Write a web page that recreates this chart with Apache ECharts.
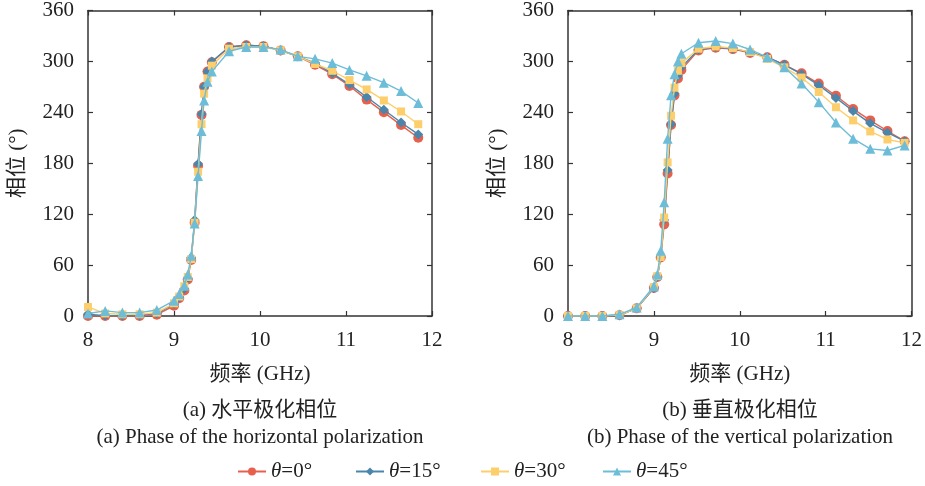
<!DOCTYPE html>
<html>
<head>
<meta charset="utf-8">
<script src="https://cdn.jsdelivr.net/npm/echarts@6/dist/echarts.min.js"></script>
<style>html,body{margin:0;padding:0;background:#fff}#c{width:925px;height:486px}</style>
</head>
<body>
<div id="c"></div>
<script>
// ---- data ----
var seriesNames = ['θ=0°', 'θ=15°', 'θ=30°', 'θ=45°'];
var xTicks = [8, 9, 10, 11, 12];
var yTicks = [0, 60, 120, 180, 240, 300, 360];

// (a) horizontal polarization
var hFreq = [8.0, 8.2, 8.4, 8.6, 8.8, 9.0, 9.06, 9.12, 9.16, 9.2, 9.24, 9.28, 9.32, 9.35, 9.39, 9.44, 9.64, 9.84, 10.04, 10.24, 10.44, 10.64, 10.84, 11.04, 11.24, 11.44, 11.64, 11.84];
var hTheta0  = [0, 0, 0, 0, 1.5, 12, 21, 30, 43, 66, 110, 177, 237, 270, 288, 299, 317, 319, 318, 313, 306, 296, 285, 271, 255, 240, 225, 210];
var hTheta15 = [2, 0.5, 0.5, 1, 3, 14, 22, 32, 44, 69, 113, 179, 238, 270, 288, 300, 317, 319, 318, 313, 306, 298, 286, 273, 258, 243, 228, 214];
var hTheta30 = [10.6, 3, 2, 2, 4, 15, 23, 35, 46, 67, 110, 170, 226, 262, 280, 295, 315, 317, 317, 313, 306, 297, 289, 278, 267, 254, 241, 226];
var hTheta45 = [3, 6, 4, 4, 7, 18, 26, 36, 49, 71, 109, 165, 218, 254, 276, 288, 312, 317, 317, 314, 306, 303, 298, 290, 283, 275, 265, 251];

// (b) vertical polarization
var vFreq = [8.0, 8.2, 8.4, 8.6, 8.8, 9.0, 9.04, 9.08, 9.12, 9.16, 9.2, 9.24, 9.28, 9.32, 9.52, 9.72, 9.92, 10.12, 10.32, 10.52, 10.72, 10.92, 11.12, 11.32, 11.52, 11.72, 11.92];
var vTheta0  = [0, 0, 0, 1, 9, 33, 46, 69, 108, 168, 225, 260, 280, 290, 313, 316, 314.5, 310, 305, 296, 286, 274, 259.5, 244, 230.5, 218, 206];
var vTheta15 = [0, 0, 0, 1, 9, 33, 46, 69.5, 113, 172, 226, 262, 283, 293, 314, 317, 315, 311, 305, 296, 285, 272, 257, 241.5, 227, 216, 206];
var vTheta30 = [0, 0, 0, 1, 9, 34, 47, 69.5, 116, 181, 236, 269, 289, 298, 315, 317.6, 315.7, 311, 303, 293, 281, 264, 246, 230.5, 217.5, 208, 204];
var vTheta45 = [0, 0, 0, 2, 10, 35, 49, 77, 134, 209, 260, 285, 300, 309, 322, 324, 321, 314, 305, 293, 274, 252, 228, 209, 197, 195, 201];

var captionA1 = '(a) 水平极化相位';
var captionA2 = '(a) Phase of the horizontal polarization';
var captionB1 = '(b) 垂直极化相位';
var captionB2 = '(b) Phase of the vertical polarization';
var xName = '频率 (GHz)';
var yName = '相位 (°)';

// ---- styling ----
var colors = ['#E8604C', '#4A86AC', '#FDCE6C', '#6DBDD8'];
var symbols = ['circle', 'diamond', 'rect', 'triangle'];
var symbolSizes = [10, 10, 8, 10];
var legendLefts = [237, 355, 480, 602];
var FONT = '"Liberation Serif", "Noto Sans CJK SC", serif';
var FS = 21;
var AX = '#333';
var TXT = '#222';

function pairs(xs, ys) { return xs.map(function (x, i) { return [x, ys[i]]; }); }

var hData = [hTheta0, hTheta15, hTheta30, hTheta45];
var vData = [vTheta0, vTheta15, vTheta30, vTheta45];

var tickStyle = { show: true, inside: true, length: 5, lineStyle: { color: AX, width: 1.2 } };
var lineStyle = { show: true, onZero: false, lineStyle: { color: AX, width: 1.5 } };

function xAxes(gi) {
  return [{
    type: 'value', gridIndex: gi, min: xTicks[0], max: xTicks[xTicks.length - 1], interval: 1, position: 'bottom',
    name: xName, nameLocation: 'middle', nameGap: 48,
    nameTextStyle: { fontFamily: FONT, fontSize: FS, color: TXT },
    axisLine: lineStyle, axisTick: tickStyle,
    axisLabel: { fontFamily: FONT, fontSize: FS, color: TXT, margin: 14 },
    splitLine: { show: false }
  }, {
    type: 'value', gridIndex: gi, min: xTicks[0], max: xTicks[xTicks.length - 1], interval: 1, position: 'top',
    axisLine: lineStyle, axisTick: tickStyle,
    axisLabel: { show: false }, splitLine: { show: false }
  }];
}
function yAxes(gi) {
  return [{
    type: 'value', gridIndex: gi, min: yTicks[0], max: yTicks[yTicks.length - 1], interval: 60, position: 'left',
    name: yName, nameLocation: 'middle', nameGap: 60, nameRotate: 90,
    nameTextStyle: { fontFamily: FONT, fontSize: FS, color: TXT },
    axisLine: lineStyle, axisTick: tickStyle,
    axisLabel: { fontFamily: FONT, fontSize: FS, color: TXT, margin: 14 },
    splitLine: { show: false }
  }, {
    type: 'value', gridIndex: gi, min: yTicks[0], max: yTicks[yTicks.length - 1], interval: 60, position: 'right',
    axisLine: lineStyle, axisTick: tickStyle,
    axisLabel: { show: false }, splitLine: { show: false }
  }];
}

var series = [];
[hData, vData].forEach(function (set, gi) {
  var xs = gi === 0 ? hFreq : vFreq;
  set.forEach(function (ys, k) {
    series.push({
      name: seriesNames[k], type: 'line',
      xAxisIndex: gi * 2, yAxisIndex: gi * 2,
      data: pairs(xs, ys),
      symbol: symbols[k], symbolSize: symbolSizes[k], showSymbol: true,
      lineStyle: { color: colors[k], width: 1.4 },
      itemStyle: { color: colors[k] },
      z: 2 + k, animation: false
    });
  });
});

var legends = seriesNames.map(function (n, k) {
  return {
    data: [n], left: legendLefts[k], top: 461, padding: 0, itemWidth: 28, itemHeight: 10, itemGap: 0,
    formatter: function (s) { return '{i|θ}{n|' + s.slice(1) + '}'; },
    textStyle: {
      fontFamily: FONT, fontSize: FS, color: TXT,
      rich: { i: { fontFamily: FONT, fontSize: FS, fontStyle: 'italic', color: TXT },
              n: { fontFamily: FONT, fontSize: FS, color: TXT } }
    }
  };
});

function cap(x, y, t) {
  return { type: 'text', x: x, y: y, style: { text: t, font: FS + 'px ' + FONT, fill: TXT, align: 'center', verticalAlign: 'middle' } };
}

var chart = echarts.init(document.getElementById('c'), null, { renderer: 'canvas' });
chart.setOption({
  animation: false,
  backgroundColor: '#fff',
  color: colors,
  grid: [
    { left: 88, right: 493, top: 10, bottom: 170 },
    { left: 568, right: 13, top: 10, bottom: 170 }
  ],
  xAxis: xAxes(0).concat(xAxes(1)),
  yAxis: yAxes(0).concat(yAxes(1)),
  legend: legends,
  graphic: [
    cap(260, 410, captionA1), cap(260, 437, captionA2),
    cap(740, 410, captionB1), cap(740, 437, captionB2)
  ],
  series: series
});
</script>
</body>
</html>
